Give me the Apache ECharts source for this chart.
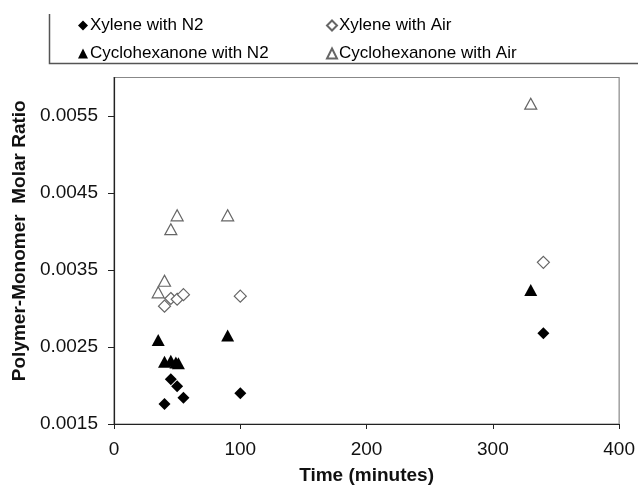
<!DOCTYPE html>
<html>
<head>
<meta charset="utf-8">
<script src="https://cdn.jsdelivr.net/npm/echarts@6/dist/echarts.min.js"></script>
<style>
  html, body { margin: 0; padding: 0; background: #fff; }
  #chart { width: 638px; height: 492px; }
</style>
</head>
<body>
<div id="chart"></div>
<script>
// 数据: 时间 (minutes) 与 Polymer-Monomer Molar Ratio
const xyleneN2Time = [40, 45, 50, 55, 100, 340]
const xyleneN2Ratio = [0.00176, 0.00208, 0.00199, 0.00184, 0.00190, 0.00268]

const xyleneAirTime = [40, 45, 50, 55, 100, 340]
const xyleneAirRatio = [0.00303, 0.00313, 0.00312, 0.00318, 0.00316, 0.00360]

const cycloN2Time = [35, 40, 45, 49, 51, 90, 330]
const cycloN2Ratio = [0.00259, 0.00231, 0.00232, 0.00230, 0.00229, 0.00265, 0.00324]

const cycloAirTime = [35, 40, 45, 50, 90, 330]
const cycloAirRatio = [0.00321, 0.00336, 0.00403, 0.00421, 0.00421, 0.00566]

const seriesNames = ['Xylene with N2', 'Xylene with Air', 'Cyclohexanone with N2', 'Cyclohexanone with Air']

const font = 'Liberation Sans, Arial, sans-serif'

// 把 x / y 两个数组拼成散点
function pairs(xs, ys) {
  return xs.map((x, i) => [x, ys[i]])
}

// scatter 默认 opacity 0.8, 这里要纯黑
const filled = { color: '#000', opacity: 1 }
const hollow = { color: '#fff', borderColor: '#666', borderWidth: 1.2, opacity: 1 }

// 每个图例单独放, 方便对齐两列
function legendAt(name, left, top) {
  return {
    data: [name],
    left: left,
    top: top,
    itemWidth: 10,
    itemHeight: 10,
    itemGap: 0,
    textStyle: { fontFamily: font, fontSize: 17, color: '#000', padding: [0, 0, 0, -3] },
  }
}

const chart = echarts.init(document.getElementById('chart'))

chart.setOption({
  animation: false,
  backgroundColor: '#fff',
  legend: [
    legendAt(seriesNames[0], 73, 12),
    legendAt(seriesNames[1], 321, 12),
    legendAt(seriesNames[2], 73, 40),
    legendAt(seriesNames[3], 321, 40),
  ],
  // 图例外框 (只看得到左边和下边)
  graphic: [
    {
      type: 'polyline',
      shape: { points: [[49.5, 14], [49.5, 63.5], [638, 63.5]] },
      style: { stroke: '#555', lineWidth: 1.5, fill: null },
    },
  ],
  grid: {
    left: 114,
    right: 18,
    top: 77.5,
    bottom: 68,
    show: true,
    borderColor: '#888',
    borderWidth: 1.2,
  },
  xAxis: {
    type: 'value',
    min: 0,
    max: 400,
    interval: 100,
    name: 'Time (minutes)',
    nameLocation: 'middle',
    nameGap: 42,
    nameTextStyle: { fontFamily: font, fontSize: 19, fontWeight: 'bold', color: '#111' },
    axisLine: { lineStyle: { color: '#222', width: 1.2 } },
    axisTick: { show: true, length: 5, lineStyle: { color: '#222' } },
    axisLabel: { margin: 16, fontFamily: font, fontSize: 19, color: '#111' },
    splitLine: { show: false },
  },
  yAxis: {
    type: 'value',
    min: 0.0015,
    max: 0.006,
    interval: 0.001,
    name: 'Polymer-Monomer  Molar Ratio',
    nameLocation: 'middle',
    nameGap: 80,
    nameTextStyle: { fontFamily: font, fontSize: 19, fontWeight: 'bold', color: '#111', padding: [0, 0, 0, 20] },
    axisLine: { show: true, lineStyle: { color: '#222', width: 1.2 } },
    axisTick: { show: true, length: 6, lineStyle: { color: '#222' } },
    axisLabel: {
      margin: 16,
      fontFamily: font,
      fontSize: 19,
      color: '#111',
      showMaxLabel: false,
      formatter: (v) => v.toFixed(4),
    },
    splitLine: { show: false },
  },
  series: [
    {
      name: seriesNames[0],
      type: 'scatter',
      symbol: 'diamond',
      symbolSize: 12,
      itemStyle: filled,
      data: pairs(xyleneN2Time, xyleneN2Ratio),
    },
    {
      name: seriesNames[1],
      type: 'scatter',
      symbol: 'diamond',
      symbolSize: 12,
      itemStyle: hollow,
      data: pairs(xyleneAirTime, xyleneAirRatio),
    },
    {
      name: seriesNames[2],
      type: 'scatter',
      symbol: 'triangle',
      symbolSize: [13, 12],
      itemStyle: filled,
      data: pairs(cycloN2Time, cycloN2Ratio),
    },
    {
      name: seriesNames[3],
      type: 'scatter',
      symbol: 'triangle',
      symbolSize: [12, 11],
      itemStyle: hollow,
      data: pairs(cycloAirTime, cycloAirRatio),
    },
  ],
})
</script>
</body>
</html>
